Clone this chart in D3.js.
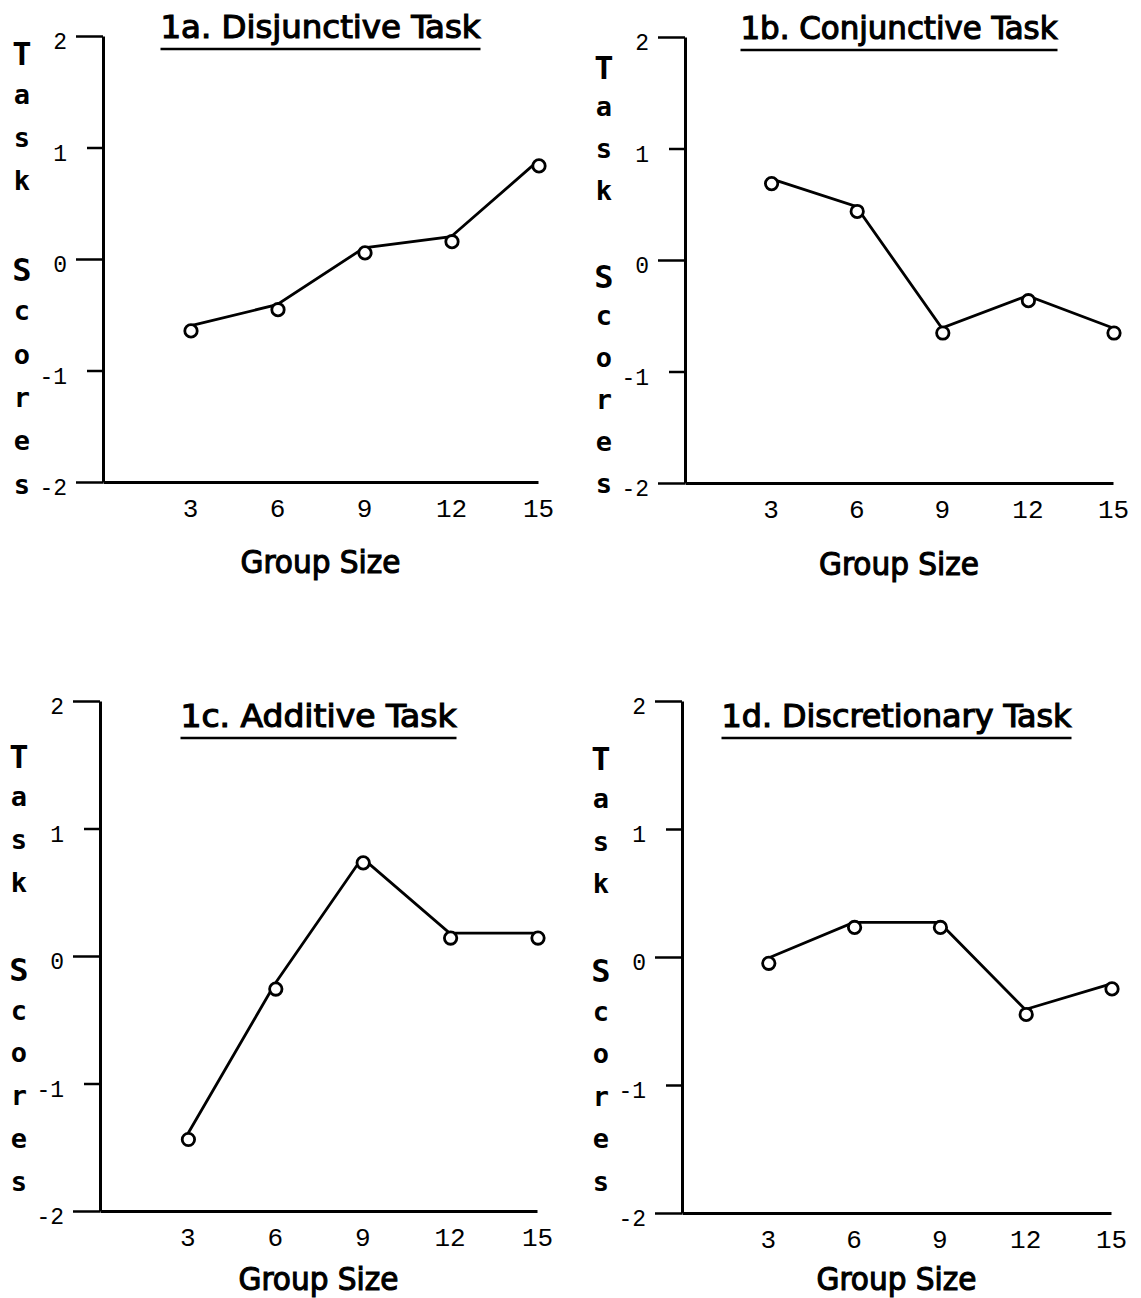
<!DOCTYPE html>
<html>
<head>
<meta charset="utf-8">
<script src="https://cdn.jsdelivr.net/npm/d3@7"></script>
<style>
  body { margin: 0; background: #fff; }
  svg { display: block; }
</style>
</head>
<body>
<svg width="1141" height="1298"></svg>
<script>
// values (group size on x, task score on y)
const groupSizes = [3, 6, 9, 12, 15];
const disjunctive = [-0.60, -0.41, 0.10, 0.20, 0.88];
const conjunctive = [0.73, 0.48, -0.61, -0.32, -0.61];
const additive = [-1.40, -0.22, 0.77, 0.18, 0.18];
const discretionary = [-0.01, 0.27, 0.27, -0.41, -0.21];
const scoreTicks = [-2, -1, 0, 1, 2];
const titles = ["1a. Disjunctive Task", "1b. Conjunctive Task", "1c. Additive Task", "1d. Discretionary Task"];
const xTitle = "Group Size";
const yTitle = "Task Scores";

const svg = d3.select("svg");
svg.append("rect").attr("width", 1141).attr("height", 1298).attr("fill", "#fff");

const titleFont = "'DejaVu Sans Condensed', 'Liberation Sans Narrow', 'DejaVu Sans', sans-serif";
const tickFont = "'Liberation Mono', 'DejaVu Sans Mono', monospace";
const letterFont = "'DejaVu Sans Mono', monospace";

// panel frames: y axis at left, x axis along the bottom
const panels = [
  { title: titles[0], values: disjunctive, left: 103, right: 538, top: 36, bottom: 482,
    titleY: 38, titleW: 320, xTitleY: 573, letterTop: 53, letterBottom: 486 },
  { title: titles[1], values: conjunctive, left: 685, right: 1113, top: 37, bottom: 483,
    titleY: 39, titleW: 317, xTitleY: 575, letterTop: 67, letterBottom: 485 },
  { title: titles[2], values: additive, left: 100, right: 537, top: 701, bottom: 1211,
    titleY: 727, titleW: 276, xTitleY: 1290, letterTop: 756, letterBottom: 1183 },
  { title: titles[3], values: discretionary, left: 682, right: 1111, top: 701, bottom: 1213,
    titleY: 727, titleW: 350, xTitleY: 1290, letterTop: 758, letterBottom: 1183 }
];

panels.forEach(p => {
  const x = d3.scaleLinear().domain([0, 15]).range([p.left, p.right]);
  const y = d3.scaleLinear().domain([-2, 2]).range([p.bottom, p.top]);
  const g = svg.append("g");

  // y axis: long ticks on even values, short on odd
  const yAxis = g.append("g")
    .attr("transform", `translate(${p.left},0)`)
    .call(d3.axisLeft(y).tickValues(scoreTicks).tickSizeOuter(0)
      .tickFormat(d => String(d)));
  yAxis.select(".domain").attr("stroke", "#000").attr("stroke-width", 3);
  yAxis.selectAll(".tick line")
    .attr("x2", d => d % 2 === 0 ? -27 : -16)
    .attr("stroke", "#000").attr("stroke-width", 2.5);
  yAxis.selectAll(".tick text")
    .attr("x", -36).attr("dy", "0.55em")
    .attr("font-family", tickFont).attr("font-size", 23).attr("fill", "#000");

  // x axis: no tick marks, labels only
  const xAxis = g.append("g")
    .attr("transform", `translate(0,${p.bottom})`)
    .call(d3.axisBottom(x).tickValues(groupSizes).tickSize(0).tickPadding(17)
      .tickFormat(d => String(d)));
  xAxis.select(".domain").attr("stroke", "#000").attr("stroke-width", 3);
  xAxis.selectAll(".tick text")
    .attr("font-family", tickFont).attr("font-size", 26).attr("fill", "#000");

  // title with underline
  const cx = (p.left + p.right) / 2;
  g.append("text")
    .attr("x", cx).attr("y", p.titleY)
    .attr("text-anchor", "middle")
    .attr("font-family", titleFont).attr("font-size", 32)
    .attr("stroke", "#000").attr("stroke-width", 1.1)
    .attr("textLength", p.titleW).attr("lengthAdjust", "spacingAndGlyphs")
    .text(p.title);
  g.append("line")
    .attr("x1", cx - p.titleW / 2).attr("x2", cx + p.titleW / 2)
    .attr("y1", p.titleY + 11).attr("y2", p.titleY + 11)
    .attr("stroke", "#000").attr("stroke-width", 2.5);

  // x axis title
  g.append("text")
    .attr("x", cx).attr("y", p.xTitleY)
    .attr("text-anchor", "middle")
    .attr("font-family", titleFont).attr("font-size", 32)
    .attr("stroke", "#000").attr("stroke-width", 1.1)
    .attr("textLength", 160).attr("lengthAdjust", "spacingAndGlyphs")
    .text(xTitle);

  // y axis title, one letter per row
  const chars = yTitle.split("");
  const step = (p.letterBottom - p.letterTop) / (chars.length - 1);
  g.append("g").selectAll("text")
    .data(chars.map((c, i) => ({ c, i })).filter(d => d.c !== " "))
    .join("text")
    .attr("x", p.left - 81)
    .attr("y", d => p.letterTop + d.i * step)
    .attr("dy", d => d.c === d.c.toUpperCase() ? "0.36em" : "0.28em")
    .attr("text-anchor", "middle")
    .attr("font-family", letterFont).attr("font-weight", "bold")
    .attr("font-size", d => d.c === d.c.toUpperCase() ? 32 : 27)
    .text(d => d.c);

  // series line and open markers
  const pts = groupSizes.map((s, i) => [s, p.values[i]]);
  g.append("path")
    .datum(pts)
    .attr("fill", "none").attr("stroke", "#000").attr("stroke-width", 2.8)
    .attr("d", d3.line().x(d => x(d[0])).y(d => y(d[1])));
  g.append("g").selectAll("circle")
    .data(pts)
    .join("circle")
    .attr("cx", d => x(d[0]) + 1)
    .attr("cy", d => y(d[1]) + 5)
    .attr("r", 6.2)
    .attr("fill", "#fff").attr("stroke", "#000").attr("stroke-width", 2.8);
});
</script>
</body>
</html>
